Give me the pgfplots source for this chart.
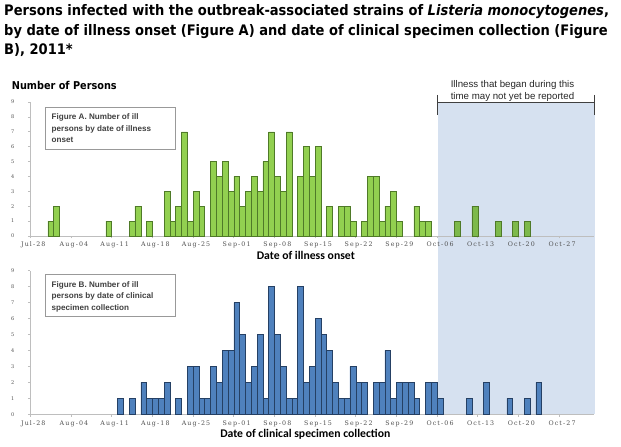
\documentclass[border=0pt]{standalone}
\usepackage{pgfplots}
\pgfplotsset{compat=1.18}
\usepackage{fontspec}
\setmainfont{Liberation Sans}
\newfontfamily\titlefont[FakeStretch=0.9]{DejaVu Sans}
\newfontfamily\tickfont[LetterSpace=18]{DejaVu Serif}
\newfontfamily\axfont{Carlito}

\definecolor{barGreen}{RGB}{146,208,80}
\definecolor{barGreenEdge}{RGB}{79,122,40}
\definecolor{barGreenLate}{RGB}{125,185,75}
\definecolor{barBlue}{RGB}{79,129,189}
\definecolor{barBlueEdge}{RGB}{37,64,100}
\definecolor{lagShade}{RGB}{214,225,240}
\definecolor{axGray}{RGB}{190,190,190}
\definecolor{tickText}{RGB}{80,80,80}
\definecolor{boxText}{RGB}{64,64,64}

% day 0 = Jul-28; one bar per day
\pgfplotsset{
  epicurve/.style={
    scale only axis, width=563.6pt, anchor=south west,
    xmin=-0.5, xmax=96.5, ymin=0, ymax=9,
    axis x line*=bottom, axis y line*=left,
    axis line style={draw=axGray, line width=0.6pt},
    ytick={0,...,9},
    xtick={-0.5,6.5,...,90.5},
    xticklabels={Jul-28,Aug-04,Aug-11,Aug-18,Aug-25,Sep-01,Sep-08,Sep-15,Sep-22,Sep-29,Oct-06,Oct-13,Oct-20,Oct-27},
    tick align=outside, major tick length=2.5pt,
    tick style={draw=axGray, line width=0.6pt},
    /pgf/number format/assume math mode=true,
    xticklabel style={font=\tickfont\fontsize{6.3}{7}\selectfont, text=tickText, xshift=2.9pt},
    yticklabel style={font=\tickfont\fontsize{5}{6}\selectfont, text=tickText, xshift=-10pt},
    clip=false,
  },
  dailybar/.style={ybar, bar width=1, bar shift=0pt, line width=0.5pt},
}

\begin{document}
\begin{tikzpicture}
\useasboundingbox (0pt,0pt) rectangle (621pt,447pt);

% reporting-lag period
\fill[lagShade] (437.5pt,33pt) rectangle (594.5pt,345pt);
\draw[black!75, line width=0.8pt] (437.5pt,344.7pt) -- (594.5pt,344.7pt)
  (437.5pt,352pt) -- (437.5pt,332pt) (594.5pt,352pt) -- (594.5pt,332pt);
\node[font=\fontsize{9.7}{11.6}\selectfont, align=center, text=black!85, inner sep=0pt]
  at (512.5pt,356.3pt) {Illness that began during this\\time may not yet be reported};

% title
\begin{scope}[every node/.style={anchor=base west, inner sep=0pt, font=\titlefont\bfseries\fontsize{14.5}{19}\selectfont}]
\node at (4pt,431.3pt) {Persons infected with the outbreak-associated strains of {\itshape Listeria monocytogenes},};
\node at (4pt,411.5pt) {by date of illness onset (Figure A) and date of clinical specimen collection (Figure};
\node at (4pt,392pt) {B), 2011*};
\end{scope}
\node[anchor=base west, inner sep=0pt, font=\titlefont\bfseries\fontsize{10.8}{12}\selectfont] at (11.7pt,357.7pt) {Number of Persons};

% Figure A: illness onset
\begin{axis}[epicurve, at={(30.4pt,211pt)}, height=134pt]
\addplot[dailybar, fill=barGreen, draw=barGreenEdge] coordinates {
 (3,1) (4,2) (13,1) (17,1) (18,2) (20,1) (23,3) (24,1) (25,2) (26,7)
 (27,1) (28,3) (29,2) (31,5) (32,4) (33,5) (34,3) (35,4) (36,2) (37,3)
 (38,4) (39,3) (40,5) (41,7) (42,4) (43,3) (44,7) (46,4) (47,6) (48,4)
 (49,6) (51,2) (53,2) (54,2) (55,1) (57,1) (58,4) (59,4) (60,1) (61,2)
 (62,3) (63,1) (66,2) (67,1) (68,1)};
\addplot[dailybar, fill=barGreenLate, draw=barGreenEdge] coordinates {
 (73,1) (76,2) (80,1) (83,1) (85,1)};
\end{axis}

% Figure B: specimen collection
\begin{axis}[epicurve, at={(30.4pt,32.7pt)}, height=143.6pt]
\addplot[dailybar, fill=barBlue, draw=barBlueEdge] coordinates {
 (15,1) (17,1) (19,2) (20,1) (21,1) (22,1) (23,2) (25,1) (27,3) (28,3)
 (29,1) (30,1) (31,3) (32,2) (33,4) (34,4) (35,7) (36,5) (37,2) (38,3)
 (39,5) (40,1) (41,8) (42,5) (43,3) (44,1) (45,1) (46,8) (47,2) (48,3)
 (49,6) (50,5) (51,4) (52,2) (53,1) (54,1) (55,3) (56,2) (57,2) (59,2)
 (60,2) (61,4) (62,1) (63,2) (64,2) (65,2) (66,1) (68,2) (69,2) (70,1)
 (75,1) (78,2) (82,1) (85,1) (87,2)};
\end{axis}

% panel captions
\draw[black!40, line width=0.7pt, fill=white] (45.7pt,339.7pt) rectangle (175.7pt,298pt);
\draw[black!40, line width=0.7pt, fill=white] (45.7pt,173pt) rectangle (175.7pt,131pt);
\begin{scope}[every node/.style={anchor=base west, inner sep=0pt, text=boxText, font=\bfseries\fontsize{8.1}{10}\selectfont}]
\node at (51.5pt,327.3pt) {Figure A. Number of ill};
\node at (51.5pt,315.8pt) {persons by date of illness};
\node at (51.5pt,304.3pt) {onset};
\node at (51.5pt,159.7pt) {Figure B. Number of ill};
\node at (51.5pt,148.2pt) {persons by date of clinical};
\node at (51.5pt,136.7pt) {specimen collection};
\end{scope}

% axis titles
\node[anchor=base, inner sep=0pt, font=\axfont\bfseries\fontsize{11.7}{13}\selectfont] at (305.8pt,187pt) {Date of illness onset};
\node[anchor=base, inner sep=0pt, font=\axfont\bfseries\fontsize{11.7}{13}\selectfont] at (305.3pt,9.3pt) {Date of clinical specimen collection};
\end{tikzpicture}
\end{document}
